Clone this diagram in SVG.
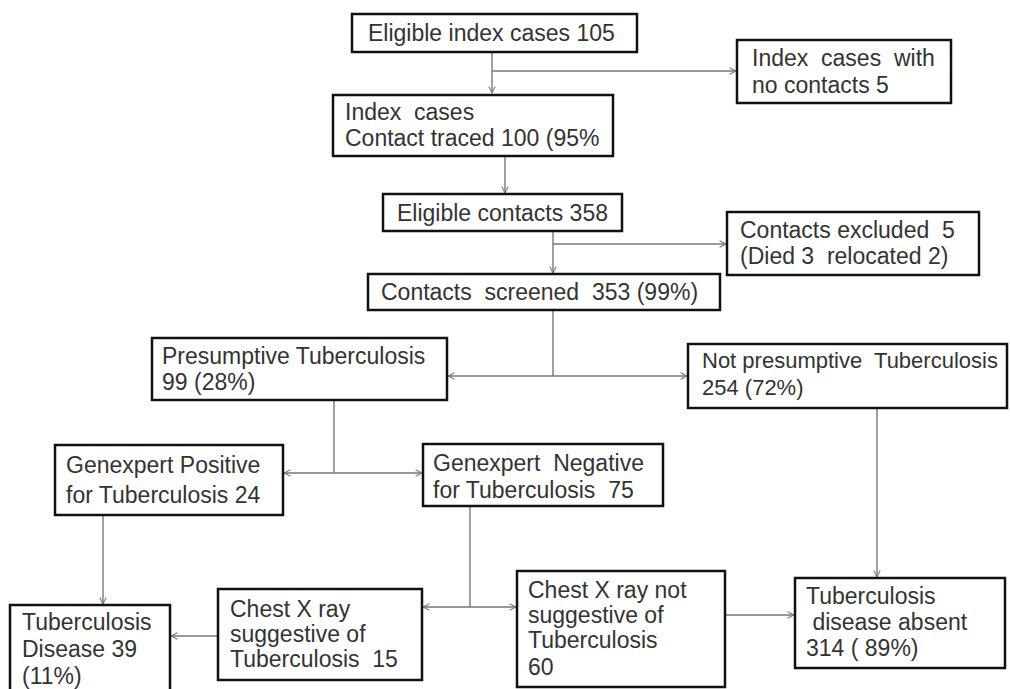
<svg xmlns="http://www.w3.org/2000/svg" width="1010" height="689" viewBox="0 0 1010 689">
<defs>
<marker id="arr" viewBox="0 0 10 10" refX="9" refY="5" markerWidth="8" markerHeight="8" markerUnits="userSpaceOnUse" orient="auto">
<path d="M1,1 L9,5 L1,9" fill="none" stroke="#777" stroke-width="1.3"/>
</marker>
<style>
.box{fill:#fff;stroke:#111;stroke-width:2.5}
.t{font-family:"Liberation Sans",Arial,sans-serif;font-size:23px;fill:#333;white-space:pre}
.s{font-size:22px}
.c{fill:none;stroke:#777;stroke-width:1.4}
</style>
</defs>
<rect width="1010" height="689" fill="#fff"/>
<g id="connectors">
<line class="c" x1="492" y1="52" x2="492" y2="93" marker-end="url(#arr)"/>
<line class="c" x1="492" y1="71" x2="736" y2="71" marker-end="url(#arr)"/>
<line class="c" x1="505" y1="156" x2="505" y2="193" marker-end="url(#arr)"/>
<line class="c" x1="553" y1="231" x2="553" y2="273" marker-end="url(#arr)"/>
<line class="c" x1="553" y1="244" x2="726" y2="244" marker-end="url(#arr)"/>
<line class="c" x1="553" y1="310" x2="553" y2="376"/>
<line class="c" x1="553" y1="376" x2="448" y2="376" marker-end="url(#arr)"/>
<line class="c" x1="553" y1="376" x2="687" y2="376" marker-end="url(#arr)"/>
<line class="c" x1="334" y1="400" x2="334" y2="473"/>
<line class="c" x1="334" y1="473" x2="284" y2="473" marker-end="url(#arr)"/>
<line class="c" x1="334" y1="473" x2="422" y2="473" marker-end="url(#arr)"/>
<line class="c" x1="103" y1="515" x2="103" y2="604" marker-end="url(#arr)"/>
<line class="c" x1="470" y1="506" x2="470" y2="607"/>
<line class="c" x1="470" y1="607" x2="423" y2="607" marker-end="url(#arr)"/>
<line class="c" x1="470" y1="607" x2="516" y2="607" marker-end="url(#arr)"/>
<line class="c" x1="218" y1="636" x2="171" y2="636" marker-end="url(#arr)"/>
<line class="c" x1="717" y1="615" x2="794" y2="615" marker-end="url(#arr)"/>
<line class="c" x1="877" y1="408" x2="877" y2="577" marker-end="url(#arr)"/>
</g>
<g id="n1"><rect class="box" x="352" y="14" width="285" height="38"/><text class="t" x="368" y="41">Eligible index cases 105</text></g>
<g id="n2"><rect class="box" x="737" y="40" width="214" height="63"/><text class="t" x="752" y="66">Index  cases  with</text><text class="t" x="752" y="93">no contacts 5</text></g>
<g id="n3"><rect class="box" x="333" y="95" width="280" height="61"/><text class="t" x="345" y="120">Index  cases</text><text class="t" x="345" y="146">Contact traced 100 (95%</text></g>
<g id="n4"><rect class="box" x="383" y="194" width="239" height="37"/><text class="t" x="397" y="221">Eligible contacts 358</text></g>
<g id="n5"><rect class="box" x="727" y="212" width="252" height="63"/><text class="t" x="740" y="238">Contacts excluded  5</text><text class="t" x="740" y="264">(Died 3  relocated 2)</text></g>
<g id="n6"><rect class="box" x="368" y="274" width="352" height="36"/><text class="t" x="381" y="300">Contacts  screened  353 (99%)</text></g>
<g id="n7"><rect class="box" x="152" y="338" width="295" height="62"/><text class="t" x="162" y="364">Presumptive Tuberculosis</text><text class="t" x="162" y="390">99 (28%)</text></g>
<g id="n8"><rect class="box" x="688" y="344" width="319" height="64"/><text class="t s" x="702" y="368">Not presumptive  Tuberculosis</text><text class="t s" x="702" y="395">254 (72%)</text></g>
<g id="n9"><rect class="box" x="55" y="445" width="228" height="70"/><text class="t" x="66" y="473">Genexpert Positive</text><text class="t" x="66" y="503">for Tuberculosis 24</text></g>
<g id="n10"><rect class="box" x="423" y="444" width="240" height="62"/><text class="t" x="433" y="471">Genexpert  Negative</text><text class="t" x="433" y="498">for Tuberculosis  75</text></g>
<g id="n11"><rect class="box" x="10" y="605" width="160" height="90"/><text class="t" x="22" y="630">Tuberculosis</text><text class="t" x="22" y="657">Disease 39</text><text class="t" x="22" y="684">(11%)</text></g>
<g id="n12"><rect class="box" x="218" y="589" width="204" height="91"/><text class="t" x="230" y="617">Chest X ray</text><text class="t" x="230" y="642">suggestive of</text><text class="t" x="230" y="667">Tuberculosis  15</text></g>
<g id="n13"><rect class="box" x="517" y="571" width="208" height="116"/><text class="t" x="528" y="598">Chest X ray not</text><text class="t" x="528" y="623">suggestive of</text><text class="t" x="528" y="648">Tuberculosis</text><text class="t" x="528" y="675">60</text></g>
<g id="n14"><rect class="box" x="795" y="578" width="210" height="90"/><text class="t" x="806" y="604">Tuberculosis</text><text class="t" x="806" y="630"> disease absent</text><text class="t" x="806" y="656">314 ( 89%)</text></g>
</svg>
